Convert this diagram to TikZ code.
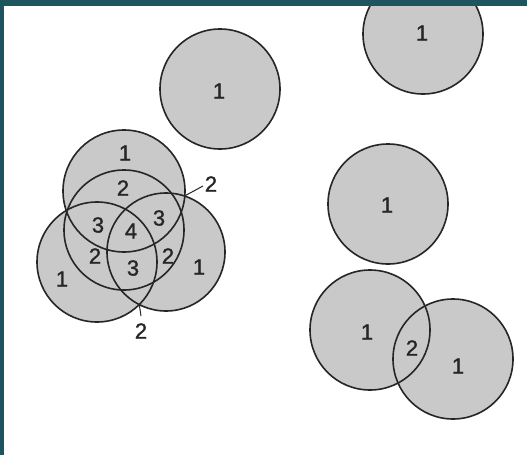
\documentclass[tikz,border=0pt]{standalone}
\usepackage{fontspec}
\setmainfont{Liberation Sans}
\newfontfamily\digitfont[FakeBold=1.2]{Liberation Sans}
\definecolor{frameTeal}{RGB}{30,84,94}
\definecolor{discGray}{RGB}{201,201,201}
\definecolor{rimGray}{RGB}{38,38,38}
\usetikzlibrary{positioning}
\tikzset{
  disc/.style={fill=discGray},
  rim/.style={draw=rimGray, line width=1.6pt},
  count/.style={text=rimGray, inner sep=0pt, font=\digitfont\fontsize{22}{22}\selectfont},
  leader/.style={draw=rimGray, line width=1pt}
}

\begin{document}
\begin{tikzpicture}[x=1pt, y=-1pt]
    \useasboundingbox (0,0) rectangle (527,455);
    \fill[white] (0,0) rectangle (527,455);

    % Centres of the discs
    \coordinate (cA) at (220,89);
    \coordinate (cB) at (423,34);
    \coordinate (cC) at (388,204);
    \coordinate (cD) at (370,330);
    \coordinate (cE) at (453,359);
    \coordinate (cT) at (124,191);
    \coordinate (cM) at (124,230);
    \coordinate (cL) at (97,262);
    \coordinate (cR) at (166,252);

    % Grey fill first, so every rim stays visible
    \foreach \c/\r in {cA/60,cB/60,cC/60,cD/60,cE/60,cT/61,cM/60,cL/60,cR/59}
      \fill[disc] (\c) circle[radius=\r];
    \foreach \c/\r in {cA/60,cB/60,cC/60,cD/60,cE/60,cT/61,cM/60,cL/60,cR/59}
      \draw[rim] (\c) circle[radius=\r];

    % Single discs
    \node[count] (nA) at (219,91) {1};
    \node[count] (nB) at (422,33) {1};
    \node[count] (nC) at (387,205) {1};

    % Two overlapping discs
    \node[count] (nD) at (367,332) {1};
    \node[count] (nDE) at (412,348) {2};
    \node[count] (nE) at (458,366) {1};

    % Cluster of four discs
    \node[count] (nT) at (125,153) {1};
    \node[count] (nTM) at (123,188) {2};
    \node[count] (nTML) at (98,225) {3};
    \node[count] (nAll) at (131,231) {4};
    \node[count] (nTMR) at (159,218) {3};
    \node[count] (nML) at (95,256) {2};
    \node[count] (nMLR) at (133,268) {3};
    \node[count] (nMR) at (168,256) {2};
    \node[count] (nL) at (62,279) {1};
    \node[count] (nR) at (199,267) {1};

    % Tiny lens regions, labelled outside
    \coordinate (cuspTR) at (184.5,196);
    \coordinate (cuspLR) at (139.3,304.6);
    \node[count] (nTR) at (211,184) {2};
    \node[count] (nLR) at (141,331) {2};
    \draw[leader] (cuspTR) -- (203,186);
    \draw[leader] (cuspLR) -- (141,316);

    % Frame
    \fill[frameTeal] (0,0) rectangle (527,6);
    \fill[frameTeal] (0,0) rectangle (4,455);
\end{tikzpicture}
\end{document}
